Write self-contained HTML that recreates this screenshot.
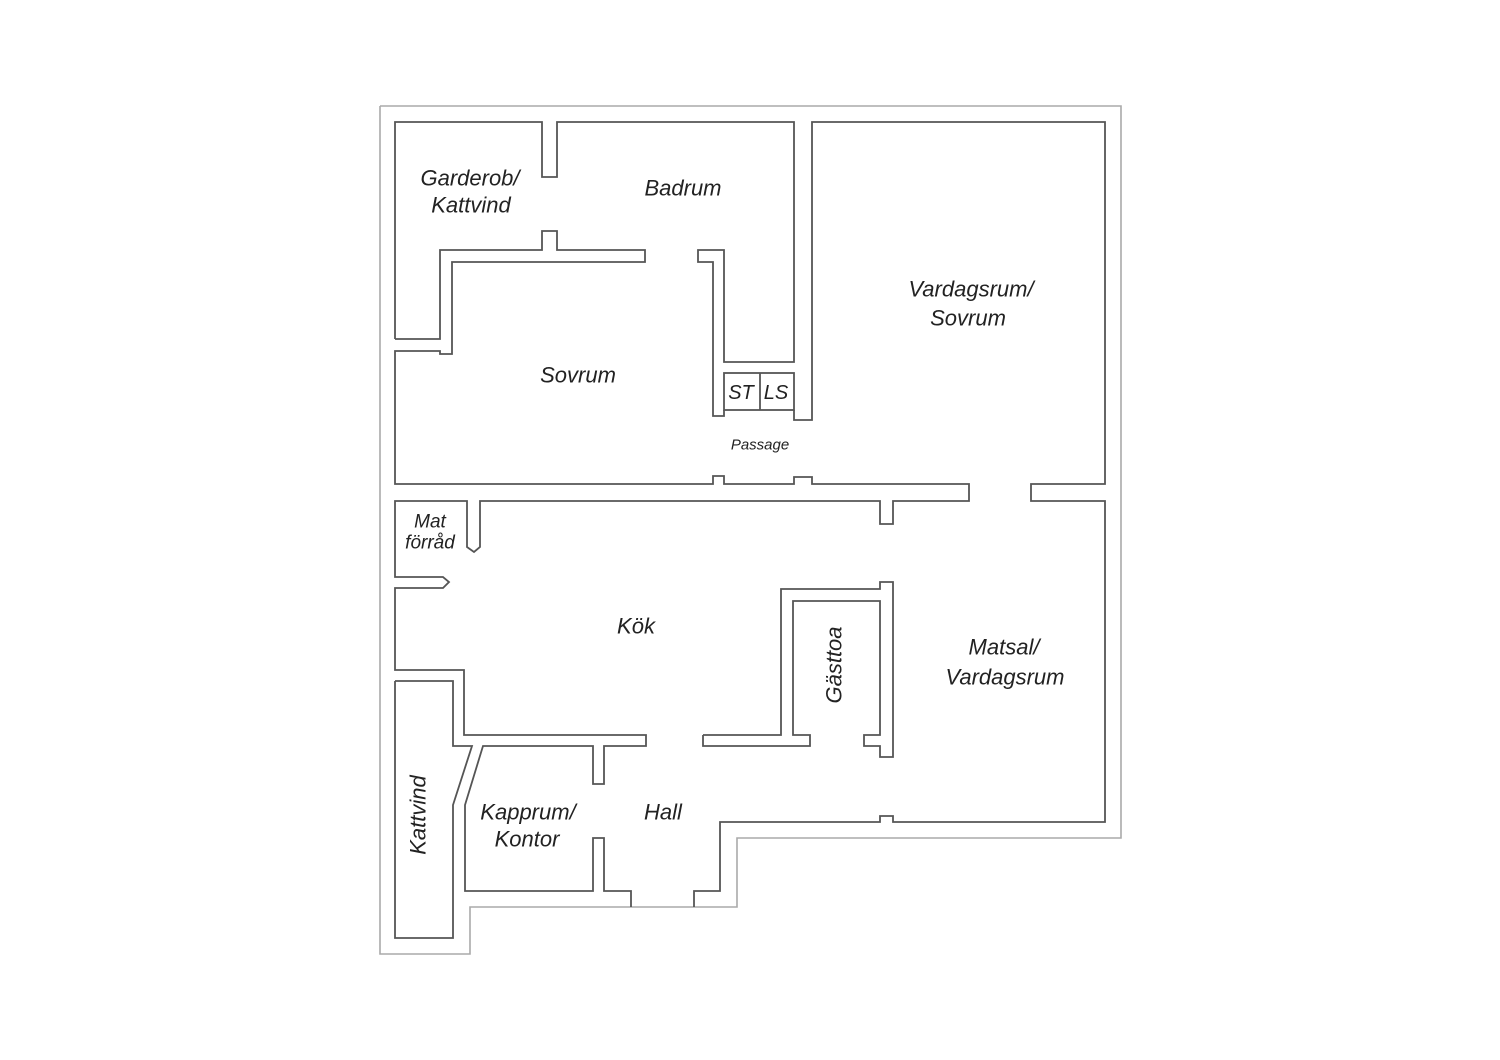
<!DOCTYPE html>
<html><head><meta charset="utf-8"><style>
html,body{margin:0;padding:0;background:#fff;}
svg{display:block;}
text{font-family:"Liberation Sans",sans-serif;font-style:italic;fill:#222;text-anchor:middle;dominant-baseline:central;}
</style></head><body>
<svg width="1500" height="1060" viewBox="0 0 1500 1060" xmlns="http://www.w3.org/2000/svg">
<g fill="none" stroke="#aaa" stroke-width="1.6">
<polyline points="380,106 1121,106 1121,838 737,838 737,907 470,907 470,954 380,954 380,106"/>
</g>
<g fill="none" stroke="#555" stroke-width="1.8" stroke-linejoin="miter">
<!-- top left garderob + badrum outline -->
<polyline points="395,339 395,122 542,122 542,177 557,177 557,122 794,122 794,362 724,362 724,250 698,250 698,262 713,262 713,416 724,416 724,410"/>
<rect x="724" y="373" width="70" height="37"/>
<line x1="760" y1="373" x2="760" y2="410"/>
<polyline points="794,410 794,420 812,420 812,122 1105,122 1105,484 1031,484 1031,501 1105,501 1105,822 893,822 893,816 880,816 880,822 720,822 720,891 694,891 694,907"/>
<polyline points="631,907 631,891 604,891 604,838 593,838 593,891 465,891 465,805 483,746 593,746 593,784 604,784 604,746 646,746 646,735 464,735 464,670 395,670 395,588 443,588 449,582 443,577 395,577 395,501 467,501 467,547 474,552 480,547 480,501 880,501 880,524 893,524 893,501 969,501 969,484 812,484 812,477 794,477 794,484 724,484 724,476 713,476 713,484 395,484 395,351 440,351 440,354 452,354 452,262 645,262 645,250 557,250 557,231 542,231 542,250 440,250 440,339 395,339"/>
<!-- lower left kattvind -->
<polyline points="395,681 453,681 453,746 472,746 453,805 453,938 395,938 395,681"/>
<!-- guest wc -->
<polyline points="703,735 781,735 781,589 880,589 880,582 893,582 893,757 880,757 880,746 864,746 864,735 880,735 880,601 793,601 793,735 810,735 810,746 703,746 703,735"/>
</g>
<g font-size="22">
<text x="470" y="178">Garderob/</text>
<text x="471" y="205">Kattvind</text>
<text x="683" y="188">Badrum</text>
<text x="971" y="289">Vardagsrum/</text>
<text x="968" y="318">Sovrum</text>
<text x="578" y="375">Sovrum</text>
<text x="636" y="626">Kök</text>
<text x="1004" y="647">Matsal/</text>
<text x="1005" y="677">Vardagsrum</text>
<text x="528" y="812">Kapprum/</text>
<text x="527" y="839">Kontor</text>
<text x="663" y="812">Hall</text>
<text transform="translate(834,665) rotate(-90)">Gästtoa</text>
<text transform="translate(418,815) rotate(-90)">Kattvind</text>
</g>
<text x="741" y="393" font-size="20">ST</text>
<text x="776" y="393" font-size="20">LS</text>
<text x="760" y="445" font-size="15">Passage</text>
<text x="430" y="522" font-size="19">Mat</text>
<text x="430" y="543" font-size="19">förråd</text>
</svg>
</body></html>
